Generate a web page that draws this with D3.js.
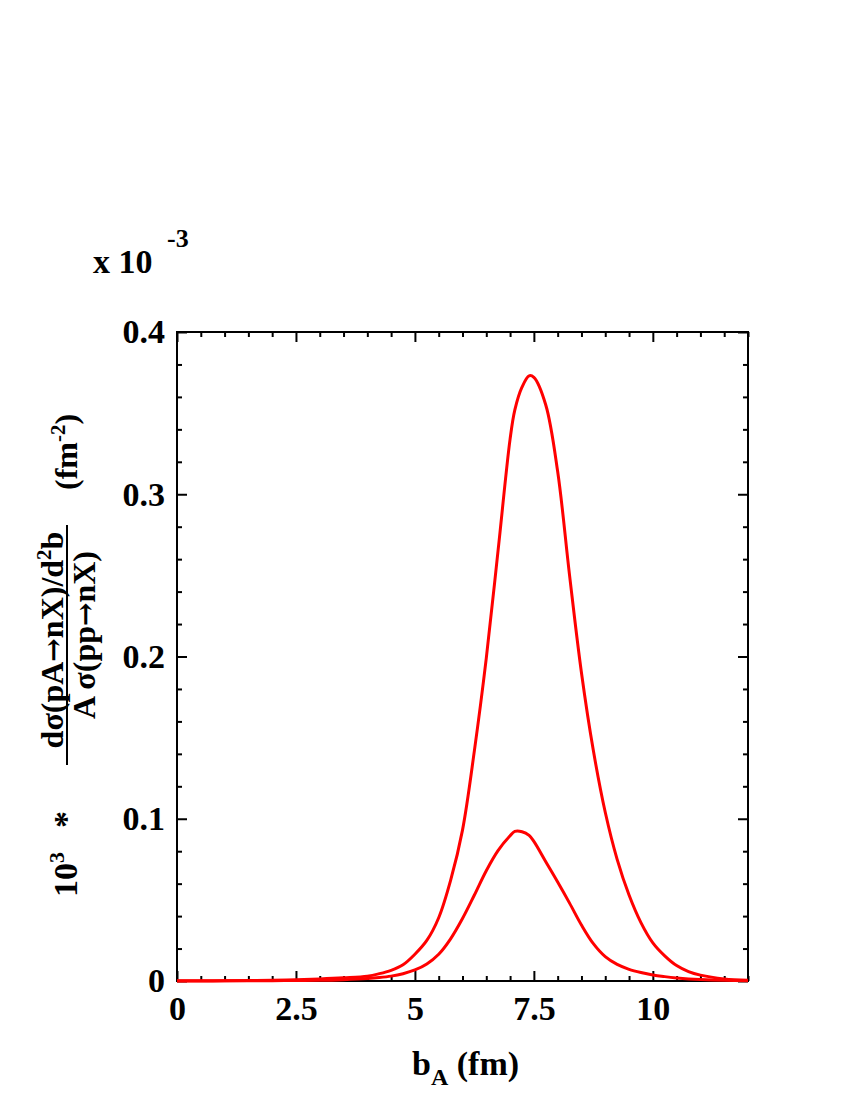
<!DOCTYPE html>
<html>
<head>
<meta charset="utf-8">
<script src="https://cdn.jsdelivr.net/npm/d3@7"></script>
<style>
  body { margin: 0; background: #fff; }
  text { font-family: 'Liberation Serif', 'Times New Roman', serif; font-weight: bold; fill: #000; }
  .arrow { font-family: 'DejaVu Serif', serif; }
</style>
</head>
<body>
<svg id="chart" width="850" height="1100"></svg>
<script>
// Impact parameter grid (fm)
const bValues = [0, 0.5, 1, 1.5, 2, 2.5, 3, 3.5, 4, 4.25, 4.5, 4.75, 5, 5.25, 5.5, 5.75, 6, 6.25, 6.5, 6.75,
  7, 7.1, 7.25, 7.4, 7.5, 7.75, 8, 8.25, 8.5, 8.75, 9, 9.25, 9.5, 9.75, 10, 10.25, 10.5, 10.75, 11, 11.5, 12]

// Upper curve (units of 10^-3 fm^-2)
const upperCurve = [0.0001, 0.0001, 0.0002, 0.0003, 0.0005, 0.0008, 0.0013, 0.0020, 0.0030, 0.0045, 0.0066, 0.0100,
  0.0165, 0.025, 0.039, 0.062, 0.093, 0.142, 0.199, 0.266,
  0.334, 0.352, 0.366, 0.373, 0.372, 0.355, 0.314, 0.250, 0.190, 0.142, 0.104, 0.075, 0.053, 0.036, 0.0235,
  0.0155, 0.0095, 0.0058, 0.0036, 0.0013, 0.0005]

// Lower curve
const lowerCurve = [0, 0.00005, 0.0001, 0.00015, 0.0002, 0.0003, 0.0004, 0.0008, 0.0015, 0.0021, 0.0030, 0.0045,
  0.0068, 0.0105, 0.0165, 0.0260, 0.0385, 0.0530, 0.0680, 0.0805,
  0.0895, 0.0922, 0.0920, 0.0897, 0.0860, 0.0735, 0.0610, 0.0480, 0.0345, 0.0230, 0.0150, 0.0102, 0.0072, 0.0052, 0.0037,
  0.0027, 0.0019, 0.0013, 0.0009, 0.0004, 0.0002]

const xMajorTicks = [0, 2.5, 5, 7.5, 10]
const yMajorTicks = [0, 0.1, 0.2, 0.3, 0.4]

const svg = d3.select('#chart')
const plot = { left: 177, right: 748, top: 332, bottom: 981 }

const x = d3.scaleLinear().domain([0, 12]).range([plot.left, plot.right])
const y = d3.scaleLinear().domain([0, 0.4]).range([plot.bottom, plot.top])

const xMinor = d3.range(0, 12.001, 0.5).filter(v => !xMajorTicks.includes(v))
const yMinor = d3.range(0, 0.4001, 0.02).map(v => +v.toFixed(2)).filter(v => !yMajorTicks.includes(v))

// Draws one side of inward ticks: minor and major in their own groups
function ticks (axisFn, scale, pos, major, minor, labels, pad) {
  svg.append('g').attr('transform', pos)
    .call(axisFn(scale).tickValues(minor).tickSize(-5).tickSizeOuter(0).tickFormat(''))
  svg.append('g').attr('transform', pos)
    .call(axisFn(scale).tickValues(major).tickSize(-10).tickSizeOuter(0)
      .tickPadding(pad).tickFormat(labels ? d3.format('') : ''))
}

ticks(d3.axisBottom, x, `translate(0,${plot.bottom})`, xMajorTicks, xMinor, true, 15)
ticks(d3.axisTop, x, `translate(0,${plot.top})`, xMajorTicks, xMinor, false, 0)
ticks(d3.axisLeft, y, `translate(${plot.left},0)`, yMajorTicks, yMinor, true, 12)
ticks(d3.axisRight, y, `translate(${plot.right},0)`, yMajorTicks, yMinor, false, 0)

svg.selectAll('.domain').remove()
svg.selectAll('.tick line').attr('stroke', '#000').attr('stroke-width', 2)
svg.selectAll('.tick text').style('font-size', '34px').attr('fill', '#000')

// Frame
svg.append('rect')
  .attr('x', plot.left).attr('y', plot.top)
  .attr('width', plot.right - plot.left).attr('height', plot.bottom - plot.top)
  .attr('fill', 'none').attr('stroke', '#000').attr('stroke-width', 2)

// Curves
const line = d3.line().x(d => x(d[0])).y(d => y(Math.max(0, d[1]))).curve(d3.curveCatmullRom.alpha(0.5))
;[upperCurve, lowerCurve].forEach(series => {
  svg.append('path')
    .datum(bValues.map((b, i) => [b, series[i]]))
    .attr('d', line)
    .attr('fill', 'none')
    .attr('stroke', '#ff0000')
    .attr('stroke-width', 3)
})

// Exponent label
svg.append('text').attr('x', 93).attr('y', 273).style('font-size', '34px').text('x 10')
svg.append('text').attr('x', 167).attr('y', 247).style('font-size', '26px').text('-3')

// X axis title
const xt = svg.append('text').attr('x', 412).attr('y', 1075).style('font-size', '34px')
xt.append('tspan').text('b')
xt.append('tspan').attr('dy', 10).style('font-size', '24px').text('A')
xt.append('tspan').attr('dy', -10).text(' (fm)')

// Y axis title (rotated)
const yl = svg.append('g').attr('transform', 'rotate(-90)')
const pre = yl.append('text').attr('x', -897).attr('y', 77).style('font-size', '34px')
pre.append('tspan').text('10')
pre.append('tspan').attr('dy', -13).style('font-size', '22px').text('3')
yl.append('text').attr('x', -828).attr('y', 77).style('font-size', '34px').text('*')

const num = yl.append('text').attr('x', -640).attr('y', 63)
  .attr('text-anchor', 'middle').style('font-size', '32px')
num.append('tspan').text('dσ(pA')
num.append('tspan').attr('class', 'arrow').style('font-size', '28px').text('→')
num.append('tspan').text('nX)/d')
num.append('tspan').attr('dy', -12).style('font-size', '21px').text('2')
num.append('tspan').attr('dy', 12).text('b')

yl.append('line').attr('x1', -765).attr('x2', -525).attr('y1', 67).attr('y2', 67)
  .attr('stroke', '#000').attr('stroke-width', 2)

const den = yl.append('text').attr('x', -635).attr('y', 95)
  .attr('text-anchor', 'middle').style('font-size', '32px')
den.append('tspan').text('A σ(pp')
den.append('tspan').attr('class', 'arrow').style('font-size', '28px').text('→')
den.append('tspan').text('nX)')

const unit = yl.append('text').attr('x', -490).attr('y', 77).style('font-size', '32px')
unit.append('tspan').text('(fm')
unit.append('tspan').attr('dy', -12).style('font-size', '21px').text('-2')
unit.append('tspan').attr('dy', 12).text(')')
</script>
</body>
</html>
